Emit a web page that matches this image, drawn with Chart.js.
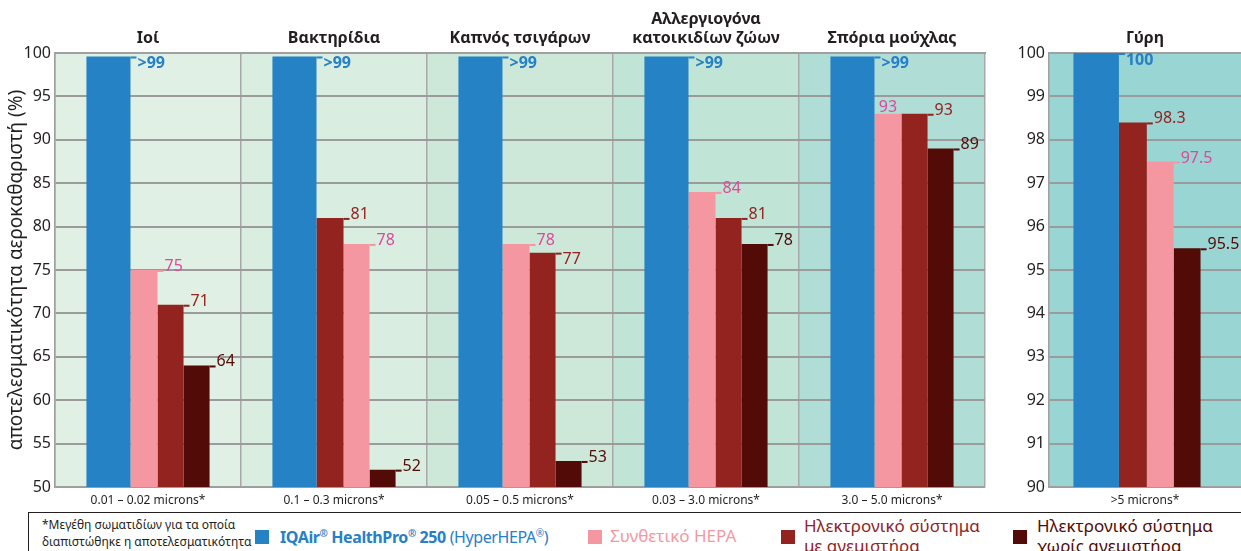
<!DOCTYPE html>
<html>
<head>
<meta charset="utf-8">
<script src="https://cdn.jsdelivr.net/npm/chart.js@4.4.1/dist/chart.umd.min.js"></script>
<style>
    body { margin: 0; width: 1241px; height: 551px; overflow: hidden; background: #fff;
           font-family: 'Noto Sans', sans-serif; color: #231f20; position: relative; }
    #left { position: absolute; left: 0; top: 0; }
    #right { position: absolute; left: 990px; top: 0; }
    #legend { position: absolute; left: 28px; top: 512px; width: 1230px; height: 60px;
              border-top: 1.5px solid #231f20; border-left: 1.5px solid #231f20; }
    #legend .note { position: absolute; left: 13px; top: 3px; font-size: 12px; line-height: 17px; }
    #legend .sq { position: absolute; top: 17px; width: 14px; height: 14px; }
    #legend .txt { position: absolute; font-size: 17px; line-height: 20px; white-space: nowrap; }
    #legend .first { font-size: 16px; letter-spacing: -0.4px; }
    #legend sup { font-size: 10px; vertical-align: 6px; line-height: 0; }
</style>
</head>
<body>
<canvas id="left" width="1000" height="512"></canvas>
<canvas id="right" width="251" height="512"></canvas>
<div id="legend"></div>

<script>
'use strict';

// Panel titles and particle sizes (left chart)
var panelTitles = ['Ιοί', 'Βακτηρίδια', 'Καπνός τσιγάρων', ['Αλλεργιογόνα', 'κατοικιδίων ζώων'], 'Σπόρια μούχλας'];
var particleSizes = ['0.01 – 0.02 microns*', '0.1 – 0.3 microns*', '0.05 – 0.5 microns*', '0.03 – 3.0 microns*', '3.0 – 5.0 microns*'];

// Efficiency (%) per product, left chart
var iqairValues = [99.6, 99.6, 99.6, 99.6, 99.6];
var iqairText = ['>99', '>99', '>99', '>99', '>99'];
var syntheticValues = [75, 78, 78, 84, 93];
var fanValues = [71, 81, 77, 81, 93];
var noFanValues = [64, 52, 53, 78, 89];

// Pollen panel (right chart)
var pollenTitle = ['Γύρη'];
var pollenSize = ['>5 microns*'];
var pollenIqair = [100];
var pollenSynthetic = [97.5];
var pollenFan = [98.4];
var pollenNoFan = [95.5];
var pollenText = [['100'], ['97.5'], ['98.3'], ['95.5']];

// Y axis ticks: min, max, step
var leftTicks = [50, 100, 5];
var rightTicks = [90, 100, 1];

var seriesNames = ['IQAir® HealthPro® 250 (HyperHEPA®)', 'Συνθετικό HEPA', 'Ηλεκτρονικό σύστημα με ανεμιστήρα', 'Ηλεκτρονικό σύστημα χωρίς ανεμιστήρα'];
var footnote = ['*Μεγέθη σωματιδίων για τα οποία', 'διαπιστώθηκε η αποτελεσματικότητα'];
var yTitle = 'αποτελεσματικότητα αεροκαθαριστή (%)';

// styles
var seriesColors = ['#2582c5', '#f597a1', '#93231f', '#520b06'];
var labelColors = ['#2680c6', '#dc4a9a', '#93231f', '#520b06'];
var bandColors = ['#e1f0e4', '#d9ede0', '#cde8d8', '#c0e4d5', '#b0ded6'];
var pollenBand = ['#98d5d3'];
var slotWidths = [44, 27, 26, 26];
var FONT = "'Noto Sans', sans-serif";
var TEXT = '#231f20';

// Bars in each group are ordered by value (IQAir first), so build slot datasets
function buildDatasets(valueSets, textSets) {
    var n = valueSets[0].length;
    var slots = [0, 1, 2, 3].map(function () {
        return { data: [], backgroundColor: [], series: [], texts: [] };
    });
    for (var i = 0; i < n; i++) {
        var order = [1, 2, 3].sort(function (a, b) {
            return (valueSets[b][i] - valueSets[a][i]) || (a - b);
        });
        order.unshift(0);
        order.forEach(function (s, k) {
            slots[k].data.push(valueSets[s][i]);
            slots[k].backgroundColor.push(seriesColors[s]);
            slots[k].series.push(s);
            slots[k].texts.push(textSets[s][i]);
        });
    }
    return slots;
}

// Category background bands
var bands = {
    id: 'bands',
    beforeDraw: function (chart, args, opts) {
        var ctx = chart.ctx, area = chart.chartArea, x = chart.scales.x;
        var n = chart.data.labels.length, w = area.width / n;
        ctx.save();
        for (var i = 0; i < n; i++) {
            ctx.fillStyle = opts.colors[i];
            var c = x.getPixelForValue(i);
            ctx.fillRect(c - w / 2, area.top, w, area.height);
        }
        ctx.restore();
    }
};

// IQAir bar is wider than the others
var barWidths = {
    id: 'barWidths',
    afterDatasetsUpdate: function (chart, args, opts) {
        var metas = chart.getSortedVisibleDatasetMetas();
        var n = chart.data.labels.length;
        var sum = slotWidths.reduce(function (a, b) { return a + b; }, 0);
        var shift = opts.shift || 0;
        for (var i = 0; i < n; i++) {
            var bars = metas.map(function (m) { return m.data[i]; });
            var first = bars[0], last = bars[bars.length - 1];
            var left = first.x - first.width / 2;
            var total = last.x + last.width / 2 - left;
            var x = left + shift;
            bars.forEach(function (b, k) {
                var w = total * slotWidths[k] / sum;
                b.width = w;
                b.x = x + w / 2;
                x += w;
            });
        }
    }
};

// Value labels with a small leader tick
var valueLabels = {
    id: 'valueLabels',
    afterDatasetsDraw: function (chart) {
        var ctx = chart.ctx;
        var metas = chart.getSortedVisibleDatasetMetas();
        var n = chart.data.labels.length;
        for (var i = 0; i < n; i++) {
            var prevY = null;
            metas.forEach(function (meta, k) {
                var bar = meta.data[i];
                var ds = chart.data.datasets[meta.index];
                var s = ds.series[i];
                var text = ds.texts[i];
                var right = bar.x + bar.width / 2;
                var next = metas[k + 1] ? metas[k + 1].data[i] : null;
                ctx.save();
                ctx.font = (s === 0 ? 'bold ' : '') + '16px ' + FONT;
                ctx.fillStyle = labelColors[s];
                if (next && next.y <= bar.y + 1) {
                    ctx.textAlign = 'center';
                    ctx.textBaseline = 'alphabetic';
                    ctx.fillText(text, bar.x, bar.y - 2);
                } else {
                    ctx.fillStyle = seriesColors[s];
                    ctx.fillRect(right, bar.y, 6, 2);
                    ctx.fillStyle = labelColors[s];
                    ctx.textAlign = 'left';
                    if (bar.y - 14 < chart.chartArea.top || (prevY !== null && bar.y - prevY < 14)) {
                        ctx.textBaseline = 'top';
                        ctx.fillText(text, right + 7, bar.y - 1);
                    } else {
                        ctx.textBaseline = 'alphabetic';
                        ctx.fillText(text, right + 7, bar.y + 1);
                    }
                    prevY = bar.y;
                }
                ctx.restore();
            });
        }
    }
};

function makeOptions(titles, ticks, yWidth, showYTitle, showXGrid, padRight, shift) {
    return {
        responsive: false,
        animation: false,
        layout: { padding: { left: 0, right: padRight, top: 0, bottom: 0 } },
        datasets: { bar: { categoryPercentage: 0.662, barPercentage: 1 } },
        plugins: {
            legend: { display: false },
            tooltip: { enabled: false },
            bands: { colors: showXGrid ? bandColors : pollenBand },
            barWidths: { shift: shift }
        },
        scales: {
            x: {
                offset: true,
                grid: { display: showXGrid, offset: true, color: '#a8a8a8', lineWidth: 1.5, drawTicks: false },
                border: { color: '#a0a0a0', width: 1.5 },
                ticks: { color: TEXT, font: { family: FONT, size: 12 }, padding: 6, maxRotation: 0 },
                afterFit: function (scale) { scale.height = 25; }
            },
            xTop: {
                type: 'category',
                position: 'top',
                labels: titles,
                offset: true,
                grid: { display: false, drawTicks: false },
                border: { color: '#a0a0a0', width: 2 },
                ticks: { color: TEXT, font: { family: FONT, size: 16, weight: 'bold', lineHeight: 1.2 }, padding: 5, maxRotation: 0 },
                afterFit: function (scale) { scale.height = 53; }
            },
            y: {
                min: ticks[0],
                max: ticks[1],
                grid: { color: '#9b9b9b', lineWidth: 2, drawTicks: false },
                border: { color: '#a0a0a0', width: 1.5 },
                ticks: { stepSize: ticks[2], color: TEXT, font: { family: FONT, size: 16 }, padding: 4 },
                title: { display: showYTitle, text: yTitle, color: TEXT, font: { family: FONT, size: 19 }, padding: { top: 5, bottom: 0 } },
                afterFit: function (scale) { scale.width = yWidth; }
            }
        }
    };
}

new Chart(document.getElementById('left').getContext('2d'), {
    type: 'bar',
    data: {
        labels: particleSizes,
        datasets: buildDatasets(
            [iqairValues, syntheticValues, fanValues, noFanValues],
            [iqairText, syntheticValues.map(String), fanValues.map(String), noFanValues.map(String)]
        )
    },
    options: makeOptions(panelTitles, leftTicks, 55, true, true, 15, 0),
    plugins: [bands, barWidths, valueLabels]
});

new Chart(document.getElementById('right').getContext('2d'), {
    type: 'bar',
    data: {
        labels: pollenSize,
        datasets: buildDatasets([pollenIqair, pollenSynthetic, pollenFan, pollenNoFan], pollenText)
    },
    options: makeOptions(pollenTitle, rightTicks, 59, false, false, 0, -8),
    plugins: [bands, barWidths, valueLabels]
});

// Legend (HTML, real text)
var legend = document.getElementById('legend');
var note = document.createElement('div');
note.className = 'note';
note.innerHTML = footnote.join('<br>');
legend.appendChild(note);

var itemPos = [[226, 251, 14, 0], [559, 581, 13, 0], [752, 775, 3, 180], [984, 1008, 3, 200]];
seriesNames.forEach(function (name, s) {
    var p = itemPos[s];
    var sq = document.createElement('div');
    sq.className = 'sq';
    sq.style.left = p[0] + 'px';
    sq.style.background = seriesColors[s];
    legend.appendChild(sq);
    var t = document.createElement('div');
    t.className = 'txt';
    t.style.left = p[1] + 'px';
    t.style.top = p[2] + 'px';
    t.style.color = s === 0 ? labelColors[0] : seriesColors[s];
    if (s === 0) {
        var parts = name.split(' (');
        t.className += ' first';
        t.innerHTML = '<b>' + parts[0].replace(/®/g, '<sup>®</sup>') + '</b> (' + parts[1].replace(/®/g, '<sup>®</sup>');
    } else {
        if (p[3]) { t.style.whiteSpace = 'normal'; t.style.width = p[3] + 'px'; }
        t.textContent = name;
    }
    legend.appendChild(t);
});
</script>
</body>
</html>
